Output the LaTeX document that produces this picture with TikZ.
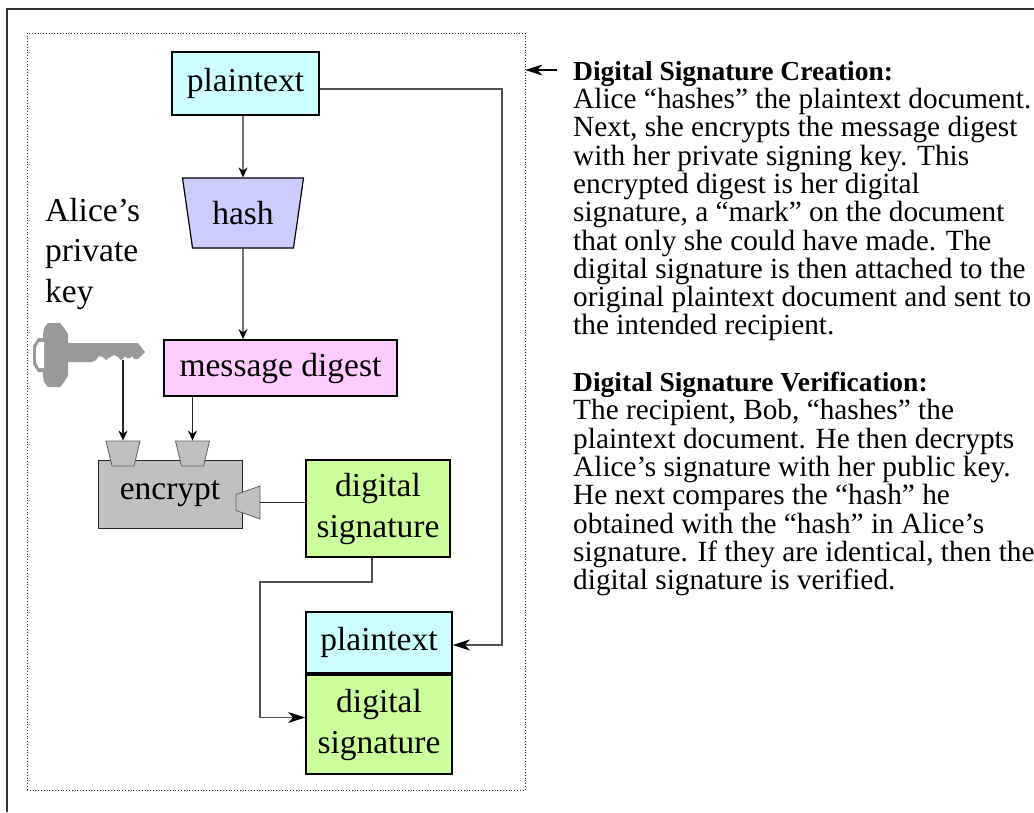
\documentclass[tikz,border=0pt]{standalone}
\usepackage{fontspec}
\setmainfont{Liberation Serif}
\usetikzlibrary{shapes.geometric,arrows.meta}

\definecolor{plaincyan}{HTML}{CCFFFF}
\definecolor{hashblue}{HTML}{CCCCFF}
\definecolor{digestpink}{HTML}{FFCCFF}
\definecolor{signgreen}{HTML}{CCFF99}
\definecolor{encgray}{HTML}{C0C0C0}
\definecolor{keygray}{HTML}{999999}
\definecolor{portline}{HTML}{606060}
\definecolor{connline}{HTML}{505050}

\begin{document}
\begin{tikzpicture}[x=1pt, y=-1pt,
                    box/.style = {shape = rectangle,
                                  draw = black,
                                  line width = 1.8pt,
                                  inner sep = 0pt,
                                  align = center,
                                  font = \fontsize{33.5}{41}\selectfont},
                    hashbox/.style = {shape = trapezium,
                                      shape border rotate = 180,
                                      trapezium angle = 67,
                                      trapezium stretches body,
                                      draw = black,
                                      line width = 1.2pt,
                                      fill = hashblue,
                                      minimum width = 121pt,
                                      minimum height = 70pt,
                                      inner sep = 0pt,
                                      font = \fontsize{33.5}{41}\selectfont},
                    port/.style = {shape = trapezium,
                                   trapezium stretches body,
                                   draw = portline,
                                   line width = 0.8pt,
                                   fill = encgray,
                                   inner sep = 0pt},
                    inport/.style = {port,
                                     shape border rotate = 180,
                                     trapezium angle = 76.5,
                                     inner ysep = 12.5pt,
                                     minimum width = 34pt},
                    conn/.style = {draw = connline, line width = 1.2pt},
                    feed/.style = {draw = black!85, line width = 1.1pt},
                    flow/.style = {-{Stealth[length=10pt, width=9pt, black]}},
                    longflow/.style = {-{Stealth[length=17pt, width=11pt, inset=5pt, black]}}]
		\useasboundingbox (0,0) rectangle (1034,812);
		\draw[line width = 1.5pt, black!80] (7,812) -- (7,9) -- (1034,9);
		\node[draw = black!80, dotted, line width = 0.8pt, minimum width = 498pt,
		      minimum height = 757pt, inner sep = 0pt] (panel) at (276,411.5) {};
		% left column
		\node[box, fill = plaincyan, minimum width = 147pt, minimum height = 63pt] (ptA) at (245.5,83.5) {plaintext};
		\node[hashbox] (hash) at (243,213) {hash};
		\node[box, fill = digestpink, minimum width = 233pt, minimum height = 56pt] (md) at (280.5,368) {message digest};
		\node[anchor = north west, inner sep = 0pt, align = left,
		      font = \fontsize{33.5}{40.5}\selectfont] (keylabel) at (45,198) {Alice’s\\private\\key};
		% key
		\fill[keygray] (48,323) -- (60,323) -- (64,328) -- (68,334) -- (68,376) -- (64,382) -- (60,387)
		               -- (48,387) -- (44,382) -- (43,376) -- (43,334) -- (44,328) -- cycle;
		\fill[keygray] (44,338) -- (38,338) -- (33,346) -- (33,364) -- (38,372) -- (44,372) -- cycle;
		\fill[white] (44,342) -- (39,342) -- (36,348) -- (36,362) -- (39,368) -- (44,368) -- cycle;
		\fill[keygray] (66,343) -- (138,343) -- (145,352) -- (138,359) -- (134,359) -- (132,356) -- (130,358)
		               -- (127,358) -- (125,356) -- (123,359) -- (121,360) -- (118,357) -- (114,355) -- (110,357)
		               -- (106,360) -- (103,357) -- (99,356) -- (96,360) -- (92,362) -- (66,362) -- cycle;
		\coordinate (keyshank) at (123,360);
		% encrypt unit
		\node[draw = black!85, line width = 1pt, fill = encgray, minimum width = 144pt, minimum height = 68pt,
		      inner sep = 0pt, font = \fontsize{33.5}{41}\selectfont] (enc) at (170,494) {encrypt};
		\node[inport] (inA) at (123,453.5) {};
		\node[inport] (inB) at (192.5,453.5) {};
		\node[port, shape border rotate = 90, trapezium angle = 70.5, inner xsep = 12pt,
		      minimum width = 33pt] (outP) at (248,502.5) {};
		% right column
		\node[box, fill = signgreen, minimum width = 144pt, minimum height = 97pt] (dsA) at (378,508.5) {digital\\signature};
		\node[box, fill = plaincyan, minimum width = 146pt, minimum height = 61pt] (ptB) at (379,642.5) {plaintext};
		\node[box, fill = signgreen, minimum width = 146pt, minimum height = 99pt] (dsB) at (379,724.5) {digital\\signature};
		\coordinate (rail) at (502,0);
		\coordinate (jog) at (260,582);
		% connectors
		\draw[feed, flow] (hash |- ptA.south) -- (hash);
		\draw[feed, flow] (hash) -- (hash |- md.north);
		\draw[feed, flow] (keyshank) -- (inA);
		\draw[feed, flow] (md.south -| inB) -- (inB);
		\draw[feed] (outP) -- (outP -| dsA.west);
		\draw[conn, longflow] ([yshift = -5.5pt]ptA.east) -- ([yshift = -5.5pt]ptA.east -| rail) |- ([yshift = -2.5pt]ptB.east);
		\draw[conn, longflow] ([xshift = -6pt]dsA.south) |- (jog) |- ([yshift = 7pt]dsB.west);
		% notes
		\node[anchor = north west, inner sep = 0pt, align = left,
		      font = \fontsize{29.3}{28.3}\selectfont] (notes) at (573,61) {%
			{\bfseries\fontsize{27.5}{28.3}\selectfont Digital Signature Creation:}\\
			Alice “hashes” the plaintext document.\\
			Next, she encrypts the message digest\\
			with her private signing key. This\\
			encrypted digest is her digital\\
			signature, a “mark” on the document\\
			that only she could have made. The\\
			digital signature is then attached to the\\
			original plaintext document and sent to\\
			the intended recipient.\\[28.3pt]
			{\bfseries\fontsize{27.5}{28.3}\selectfont Digital Signature Verification:}\\
			The recipient, Bob, “hashes” the\\
			plaintext document. He then decrypts\\
			Alice’s signature with her public key.\\
			He next compares the “hash” he\\
			obtained with the “hash” in Alice’s\\
			signature. If they are identical, then the\\
			digital signature is verified.};
		\coordinate (notestart) at (557,70);
		\draw[line width = 1.2pt, longflow] (notestart) -- (notestart -| panel.east);
	\end{tikzpicture}
\end{document}
